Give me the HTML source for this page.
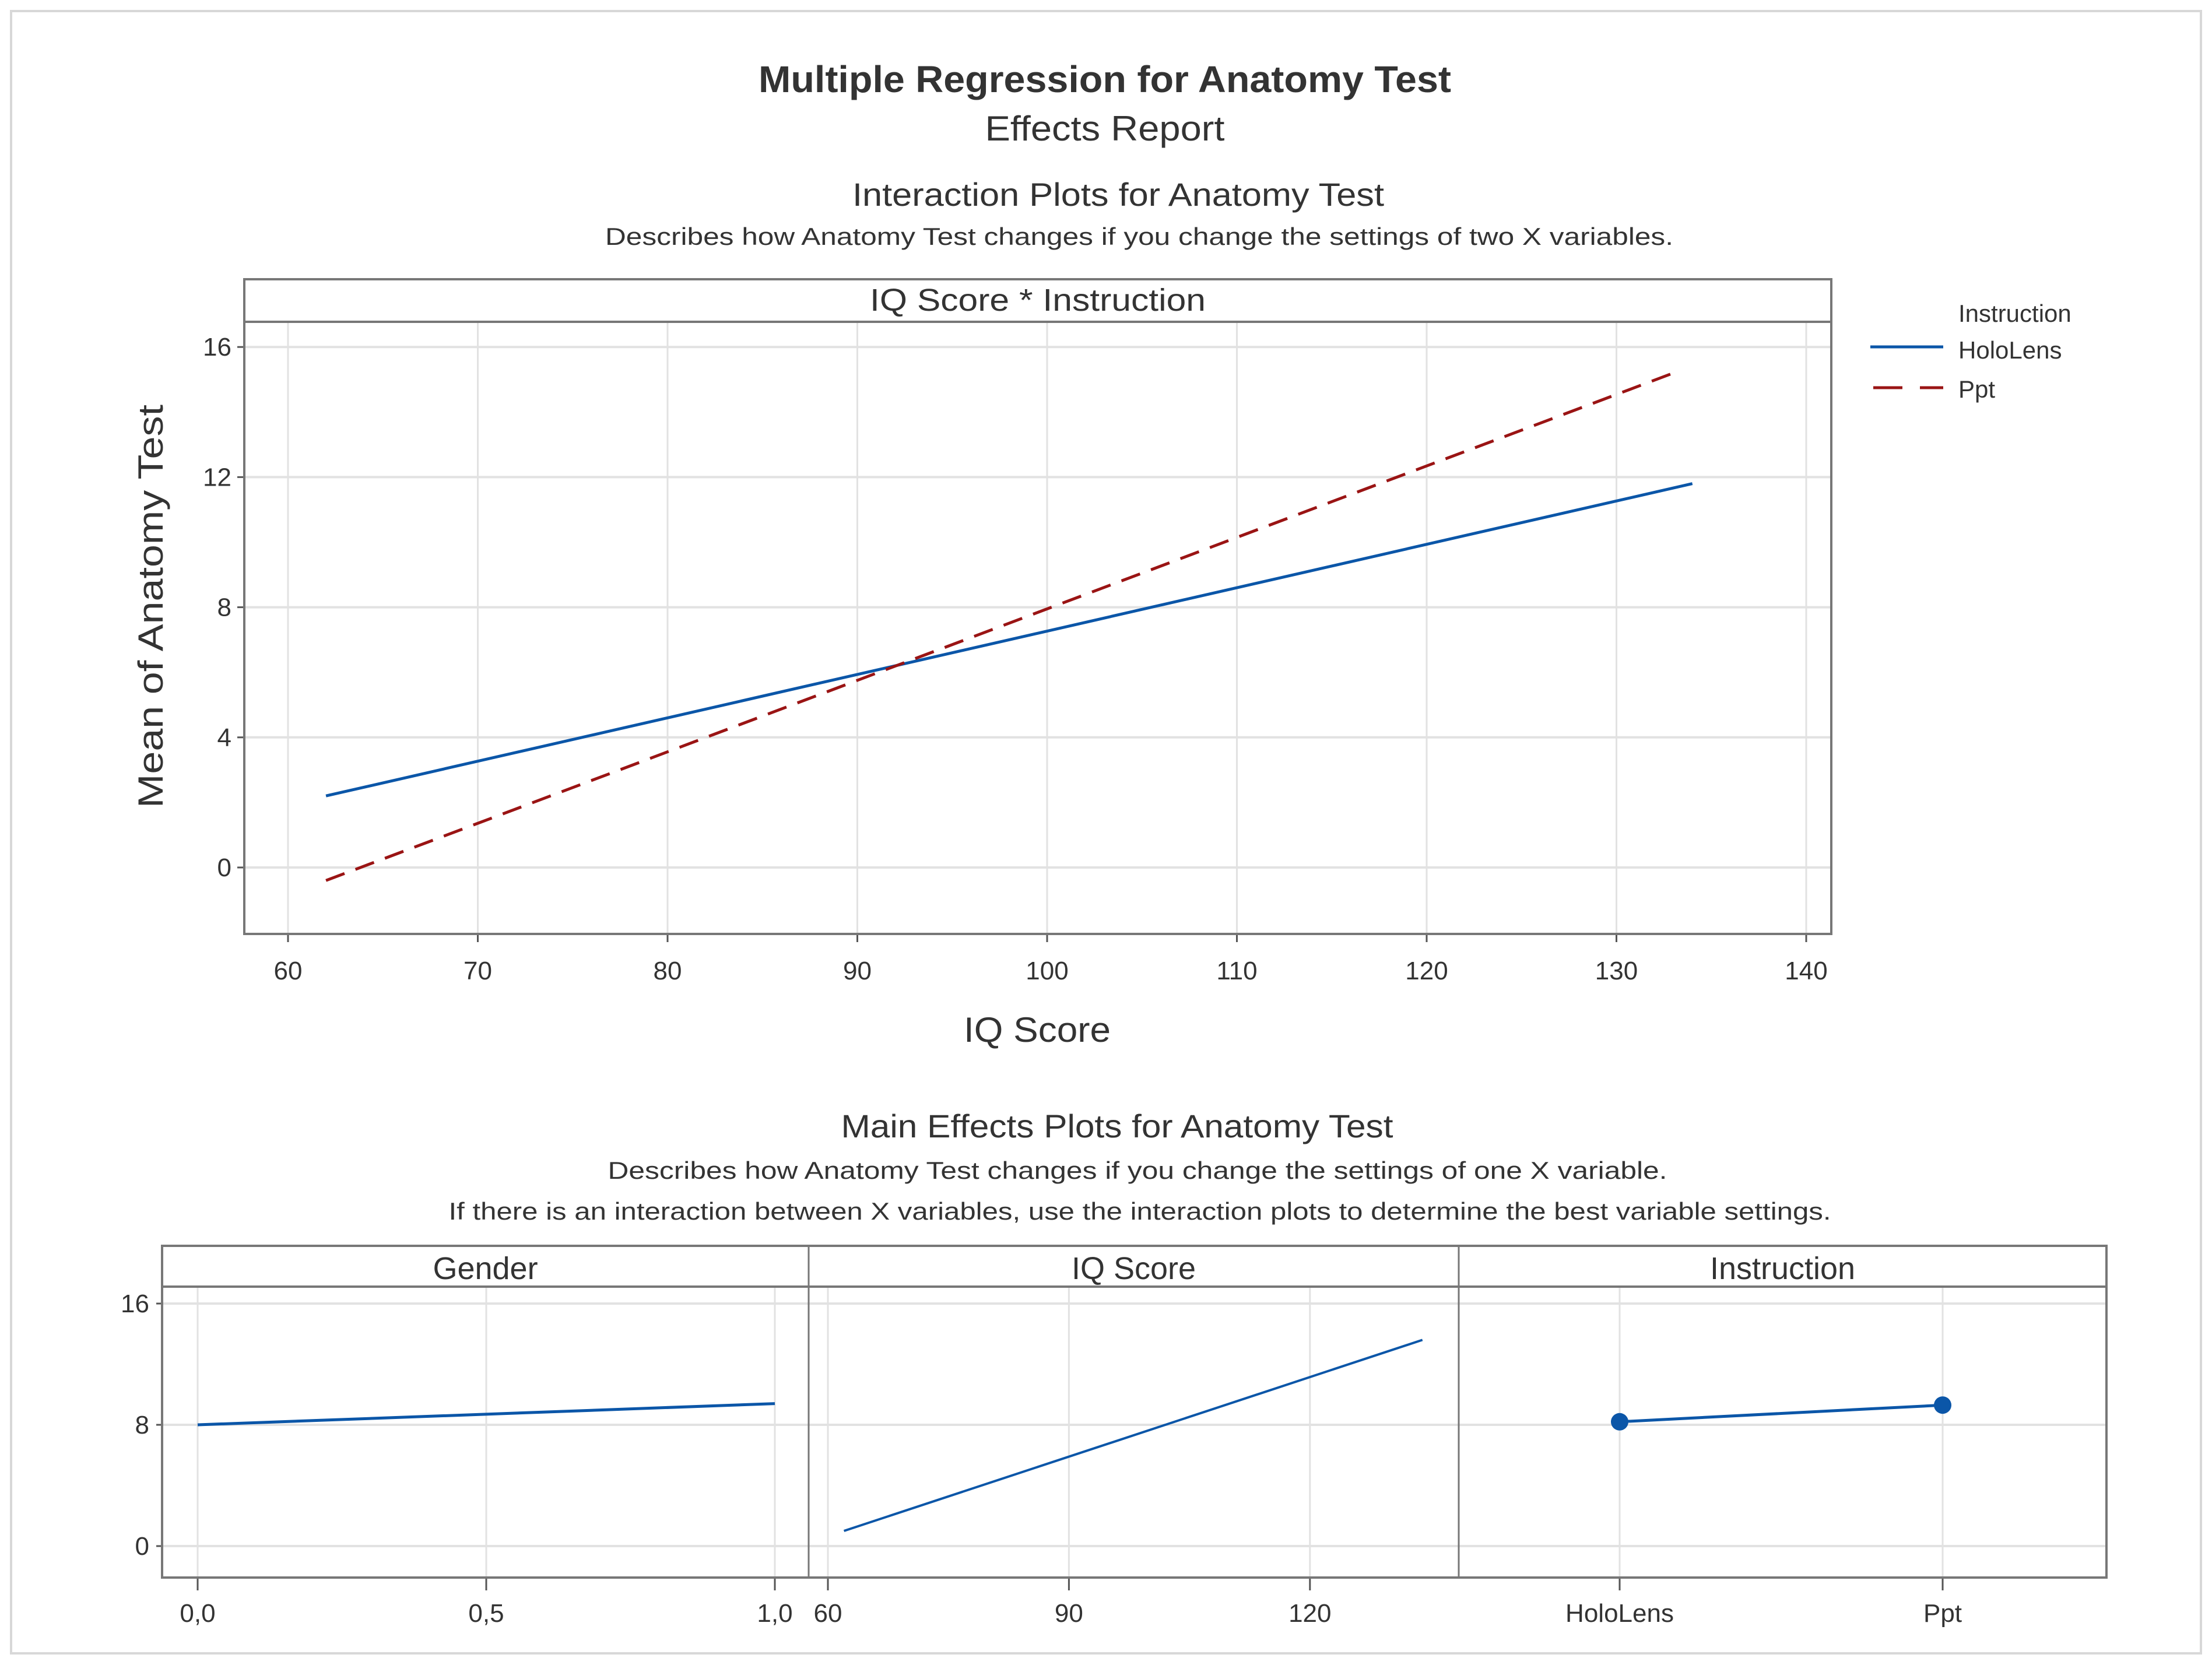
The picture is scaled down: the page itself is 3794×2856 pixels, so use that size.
<!DOCTYPE html>
<html><head><meta charset="utf-8"><style>
html,body{margin:0;padding:0;background:#fff}
svg{display:block}
text{font-family:"Liberation Sans",sans-serif;fill:#333}
</style></head><body>
<svg id="s" width="3794" height="2856" viewBox="0 0 3794 2856" xmlns="http://www.w3.org/2000/svg">
<rect x="19" y="19" width="3756" height="2817" fill="#fff" stroke="#d8d8d8" stroke-width="4"/>
<text x="1895" y="158" text-anchor="middle" font-size="64" font-weight="bold" textLength="1188" lengthAdjust="spacingAndGlyphs">Multiple Regression for Anatomy Test</text>
<text x="1895" y="241" text-anchor="middle" font-size="60" fill="#555" textLength="411" lengthAdjust="spacingAndGlyphs">Effects Report</text>
<text x="1918" y="353" text-anchor="middle" font-size="56" textLength="912" lengthAdjust="spacingAndGlyphs">Interaction Plots for Anatomy Test</text>
<text x="1954" y="420" text-anchor="middle" font-size="42" textLength="1832" lengthAdjust="spacingAndGlyphs">Describes how Anatomy Test changes if you change the settings of two X variables.</text>
<g id="topg"></g>
<text x="1916" y="1951" text-anchor="middle" font-size="56" textLength="947" lengthAdjust="spacingAndGlyphs">Main Effects Plots for Anatomy Test</text>
<text x="1951" y="2022" text-anchor="middle" font-size="42" textLength="1817" lengthAdjust="spacingAndGlyphs">Describes how Anatomy Test changes if you change the settings of one X variable.</text>
<text x="1955" y="2092" text-anchor="middle" font-size="42" textLength="2371" lengthAdjust="spacingAndGlyphs">If there is an interaction between X variables, use the interaction plots to determine the best variable settings.</text>
<g id="botg"></g>
</svg>
<script>
// Interaction plot data
const iqTicks = [60,70,80,90,100,110,120,130,140];
const yTicks = [0,4,8,12,16];
const holoX = [62,134];
const holoY = [2.2,11.8];
const pptX = [62,133];
const pptY = [-0.4,15.2];
// Main effects data
const mainYTicks = [0,8,16];
const genderX = [0,1];
const genderY = [8.0,9.4];
const genderTicks = ['0,0','0,5','1,0'];
const genderTickVals = [0,0.5,1];
const iqMainTicks = [60,90,120];
const iqMainX = [62,134];
const iqMainY = [1.0,13.6];
const instrCats = ['HoloLens','Ppt'];
const instrY = [8.2,9.3];

const NS='http://www.w3.org/2000/svg';
function mk(parent,tag,attrs,txt){const e=document.createElementNS(NS,tag);for(const k in attrs)e.setAttribute(k,attrs[k]);if(txt!==undefined)e.textContent=txt;parent.appendChild(e);return e;}
const topG=document.getElementById('topg'), botG=document.getElementById('botg');
const BLUE='#0b56a8', RED='#9a1414', GRID='#e2e2e2', FRAME='#777';

// ---------- top plot ----------
const L=419,R=3141,T=479,SB=552,B=1602;
const xs=v=>494+(v-60)*32.55;
const ys=v=>1488-(v)*55.8;
iqTicks.forEach(v=>{
  const g=mk(topG,'line',{x1:xs(v),x2:xs(v),y1:SB,y2:B,stroke:GRID,'stroke-width':3});
  
  
  const t=mk(topG,'line',{x1:xs(v),x2:xs(v),y1:B,y2:B+14,stroke:'#555','stroke-width':3});
  
  
  const l=mk(topG,'text',{x:xs(v),y:1680,'text-anchor':'middle','font-size':44},v);
  
  
});
yTicks.forEach(v=>{
  const g=mk(topG,'line',{x1:L,x2:R,y1:ys(v),y2:ys(v),stroke:GRID,'stroke-width':4});
  
  
  const t=mk(topG,'line',{x1:L-12,x2:L,y1:ys(v),y2:ys(v),stroke:'#555','stroke-width':3});
  
  
  const l=mk(topG,'text',{x:L-22,y:ys(v)+15,'text-anchor':'end','font-size':44},v);
  
  
});
let f=mk(topG,'rect',{x:L,y:T,width:R-L,height:B-T,fill:'none',stroke:FRAME,'stroke-width':4});


f=mk(topG,'line',{x1:L,x2:R,y1:SB,y2:SB,stroke:FRAME,'stroke-width':4});


f=mk(topG,'text',{x:(L+R)/2,y:533,'text-anchor':'middle','font-size':54,textLength:576,lengthAdjust:'spacingAndGlyphs'},'IQ Score * Instruction');


let ln=mk(topG,'line',{x1:xs(holoX[0]),y1:ys(holoY[0]),x2:xs(holoX[1]),y2:ys(holoY[1]),stroke:BLUE,'stroke-width':5});


ln=mk(topG,'line',{x1:xs(pptX[0]),y1:ys(pptY[0]),x2:xs(pptX[1]),y2:ys(pptY[1]),stroke:RED,'stroke-width':5,'stroke-dasharray':'34 20'});


f=mk(topG,'text',{x:259,y:1040,'text-anchor':'middle','font-size':60,transform:'rotate(-90 259 1040)',dy:20,textLength:692,lengthAdjust:'spacingAndGlyphs'},'Mean of Anatomy Test');


f=mk(topG,'text',{x:1779,y:1787,'text-anchor':'middle','font-size':60,textLength:252,lengthAdjust:'spacingAndGlyphs'},'IQ Score');


// legend
f=mk(topG,'text',{x:3359,y:552,'font-size':42,fill:'#555'},'Instruction');


f=mk(topG,'line',{x1:3208,x2:3333,y1:595,y2:595,stroke:BLUE,'stroke-width':5});


f=mk(topG,'text',{x:3359,y:615,'font-size':42,fill:'#555'},'HoloLens');


f=mk(topG,'line',{x1:3213,x2:3333,y1:665,y2:665,stroke:RED,'stroke-width':5,'stroke-dasharray':'50 30'});


f=mk(topG,'text',{x:3359,y:682,'font-size':42,fill:'#555'},'Ppt');



// ---------- bottom plots ----------
const BL=278,BR=3613,BT=2137,BSB=2207,BB=2706,D1=1387,D2=2502;
const bys=v=>2652-v*26;
mainYTicks.forEach(v=>{
  const g=mk(botG,'line',{x1:BL,x2:BR,y1:bys(v),y2:bys(v),stroke:GRID,'stroke-width':4});
  
  
  const t=mk(botG,'line',{x1:BL-10,x2:BL,y1:bys(v),y2:bys(v),stroke:'#555','stroke-width':3});
  
  
  const l=mk(botG,'text',{x:BL-22,y:bys(v)+15,'text-anchor':'end','font-size':44},v);
  
  
});
function vtick(x,label){
  const g=mk(botG,'line',{x1:x,x2:x,y1:BSB,y2:BB,stroke:GRID,'stroke-width':3});
  
  
  const t=mk(botG,'line',{x1:x,x2:x,y1:BB,y2:BB+22,stroke:'#555','stroke-width':3});
  
  
  const l=mk(botG,'text',{x:x,y:2782,'text-anchor':'middle','font-size':44},label);
  
  
}
const gx=v=>339+v*990;
genderTickVals.forEach((v,i)=>vtick(gx(v),genderTicks[i]));
const ix=v=>1420+(v-60)*13.78;
iqMainTicks.forEach(v=>vtick(ix(v),v));
const cx=i=>2778+i*554;
instrCats.forEach((c,i)=>vtick(cx(i),c));
f=mk(botG,'rect',{x:BL,y:BT,width:BR-BL,height:BB-BT,fill:'none',stroke:FRAME,'stroke-width':4});


f=mk(botG,'line',{x1:BL,x2:BR,y1:BSB,y2:BSB,stroke:FRAME,'stroke-width':4});


[D1,D2].forEach(x=>{const d=mk(botG,'line',{x1:x,x2:x,y1:BT,y2:BB,stroke:FRAME,'stroke-width':3});

});
[['Gender',(BL+D1)/2,'gender-strip-label'],['IQ Score',(D1+D2)/2,'iq-strip-label'],['Instruction',(D2+BR)/2,'instruction-strip-label']].forEach(a=>{
  const t=mk(botG,'text',{x:a[1],y:2194,'text-anchor':'middle','font-size':54},a[0]);
  
  
});
ln=mk(botG,'line',{x1:gx(genderX[0]),y1:bys(genderY[0]),x2:gx(genderX[1]),y2:bys(genderY[1]),stroke:BLUE,'stroke-width':5});


ln=mk(botG,'line',{x1:ix(iqMainX[0]),y1:bys(iqMainY[0]),x2:ix(iqMainX[1]),y2:bys(iqMainY[1]),stroke:BLUE,'stroke-width':4});


ln=mk(botG,'line',{x1:cx(0),y1:bys(instrY[0]),x2:cx(1),y2:bys(instrY[1]),stroke:BLUE,'stroke-width':5});


instrY.forEach((v,i)=>{
  const p=mk(botG,'circle',{cx:cx(i),cy:bys(v),r:15,fill:BLUE});
  
  
});
</script>
</body></html>
